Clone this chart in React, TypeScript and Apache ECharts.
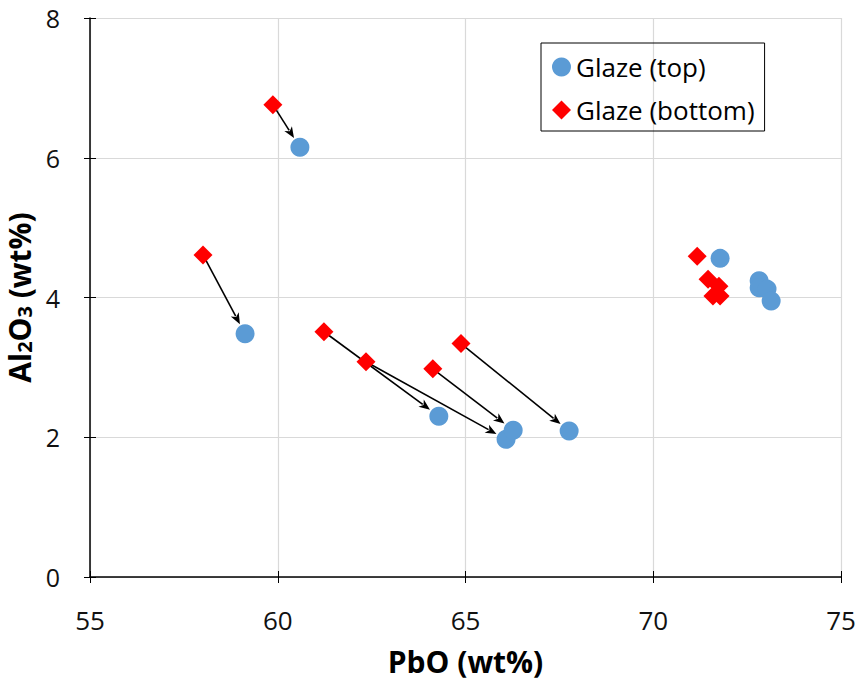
import React, { useEffect, useRef } from "react";
import * as echarts from "echarts";

// Glaze (top) – blue circles
const topX = [60.59, 59.13, 64.29, 66.08, 66.27, 67.76, 71.78, 72.82, 72.82, 73.03, 73.14];
const topY = [6.15, 3.48, 2.30, 1.97, 2.10, 2.09, 4.56, 4.24, 4.14, 4.12, 3.95];

// Glaze (bottom) – red diamonds
const botX = [59.87, 58.01, 61.23, 62.35, 64.13, 64.88, 71.17, 71.46, 71.75, 71.59, 71.78];
const botY = [6.76, 4.61, 3.51, 3.08, 2.98, 3.34, 4.59, 4.26, 4.16, 4.02, 4.02];

// arrows: [bottom index, top index]
const arrowPairs = [
  [0, 0],
  [1, 1],
  [2, 2],
  [3, 3],
  [4, 4],
  [5, 5],
];

const xTicks = { min: 55, max: 75, interval: 5 };
const yTicks = { min: 0, max: 8, interval: 2 };

const FONT = "'Open Sans', Lato, sans-serif";

export default function App() {
  const ref = useRef<HTMLDivElement>(null);

  useEffect(() => {
    if (!ref.current) return;
    const chart = echarts.init(ref.current, undefined, { renderer: "svg" });

    const topData = topX.map((x, i) => [x, topY[i]]);
    const botData = botX.map((x, i) => [x, botY[i]]);
    const arrowData = arrowPairs.map(([b, t]) => [botX[b], botY[b], topX[t], topY[t]]);

    const option: any = {
      animation: false,
      backgroundColor: "#ffffff",
      textStyle: { fontFamily: FONT },
      grid: { left: 90, right: 15, top: 18, bottom: 110, containLabel: false, outerBoundsMode: "none" },
      legend: {
        orient: "vertical",
        left: 541,
        top: 43,
        padding: [11, 10, 8, 11],
        itemGap: 17,
        itemWidth: 19,
        itemHeight: 19,
        borderColor: "#000",
        borderWidth: 1,
        textStyle: { fontSize: 26, lineHeight: 26, color: "#000", fontFamily: FONT },
        data: [
          { name: "Glaze (top)", icon: "circle" },
          { name: "Glaze (bottom)", icon: "diamond" },
        ],
      },
      xAxis: [
        {
          type: "value",
          min: xTicks.min,
          max: xTicks.max,
          interval: xTicks.interval,
          name: "PbO (wt%)",
          nameLocation: "middle",
          nameGap: 69,
          nameTextStyle: { fontSize: 30, fontWeight: "bold", color: "#000", fontFamily: FONT },
          axisLine: { onZero: false, lineStyle: { color: "#000", width: 1.5 } },
          axisTick: { show: true, length: 6, lineStyle: { color: "#000", width: 1 } },
          axisLabel: { fontSize: 26, color: "#111", margin: 30, fontFamily: FONT },
          splitLine: { show: true, lineStyle: { color: "#d9d9d9", width: 1.2 } },
        },
        {
          type: "value",
          position: "bottom",
          min: xTicks.min,
          max: xTicks.max,
          interval: xTicks.interval,
          axisLine: { show: false, onZero: false },
          axisTick: { show: true, inside: true, length: 6, lineStyle: { color: "#000", width: 1 } },
          axisLabel: { show: false },
          splitLine: { show: false },
        },
      ],
      yAxis: [
        {
          type: "value",
          min: yTicks.min,
          max: yTicks.max,
          interval: yTicks.interval,
          name: "Al{sub|2}O{sub|3} (wt%)",
          nameLocation: "middle",
          nameGap: 54,
          nameTextStyle: {
            fontSize: 30,
            fontWeight: "bold",
            color: "#000",
            fontFamily: FONT,
            rich: {
              sub: { fontSize: 20, fontWeight: "bold", color: "#000", fontFamily: FONT, verticalAlign: "bottom" },
            },
          },
          axisLine: { show: true, onZero: false, lineStyle: { color: "#000", width: 1.5 } },
          axisTick: { show: true, length: 6, lineStyle: { color: "#000", width: 1 } },
          axisLabel: { fontSize: 25, lineHeight: 24, color: "#111", margin: 30, fontFamily: FONT },
          splitLine: { show: true, lineStyle: { color: "#d9d9d9", width: 1.2 } },
        },
        {
          type: "value",
          position: "left",
          min: yTicks.min,
          max: yTicks.max,
          interval: yTicks.interval,
          axisLine: { show: false, onZero: false },
          axisTick: { show: true, inside: true, length: 6, lineStyle: { color: "#000", width: 1 } },
          axisLabel: { show: false },
          splitLine: { show: false },
        },
      ],
      series: [
        {
          type: "custom",
          name: "arrows",
          z: 1,
          silent: true,
          encode: { x: [0, 2], y: [1, 3] },
          data: arrowData,
          renderItem: (params: any, api: any) => {
            const p0 = api.coord([api.value(0), api.value(1)]);
            const p1 = api.coord([api.value(2), api.value(3)]);
            const dx = p1[0] - p0[0];
            const dy = p1[1] - p0[1];
            const len = Math.sqrt(dx * dx + dy * dy) || 1;
            const ux = dx / len;
            const uy = dy / len;
            const tipX = p1[0] - ux * 11;
            const tipY = p1[1] - uy * 11;
            const headLen = 11;
            const headHalf = 4.5;
            const baseX = tipX - ux * headLen;
            const baseY = tipY - uy * headLen;
            const nx = -uy;
            const ny = ux;
            return {
              type: "group",
              children: [
                {
                  type: "line",
                  shape: { x1: p0[0], y1: p0[1], x2: baseX + ux * 2, y2: baseY + uy * 2 },
                  style: { stroke: "#000", lineWidth: 1.6 },
                },
                {
                  type: "polygon",
                  shape: {
                    points: [
                      [tipX, tipY],
                      [baseX + nx * headHalf, baseY + ny * headHalf],
                      [baseX + ux * 3, baseY + uy * 3],
                      [baseX - nx * headHalf, baseY - ny * headHalf],
                    ],
                  },
                  style: { fill: "#000" },
                },
              ],
            };
          },
        },
        {
          type: "scatter",
          name: "Glaze (top)",
          z: 3,
          symbol: "circle",
          symbolSize: 19,
          itemStyle: { color: "#5B9BD5", opacity: 1 },
          data: topData,
        },
        {
          type: "scatter",
          name: "Glaze (bottom)",
          z: 4,
          symbol: "diamond",
          symbolSize: 19,
          itemStyle: { color: "#FF0000", opacity: 1 },
          data: botData,
        },
      ],
    };

    chart.setOption(option);
    return () => chart.dispose();
  }, []);

  return (
    <div
      ref={ref}
      style={{ position: "fixed", left: 0, top: 0, width: 856, height: 687, background: "#fff" }}
    />
  );
}
